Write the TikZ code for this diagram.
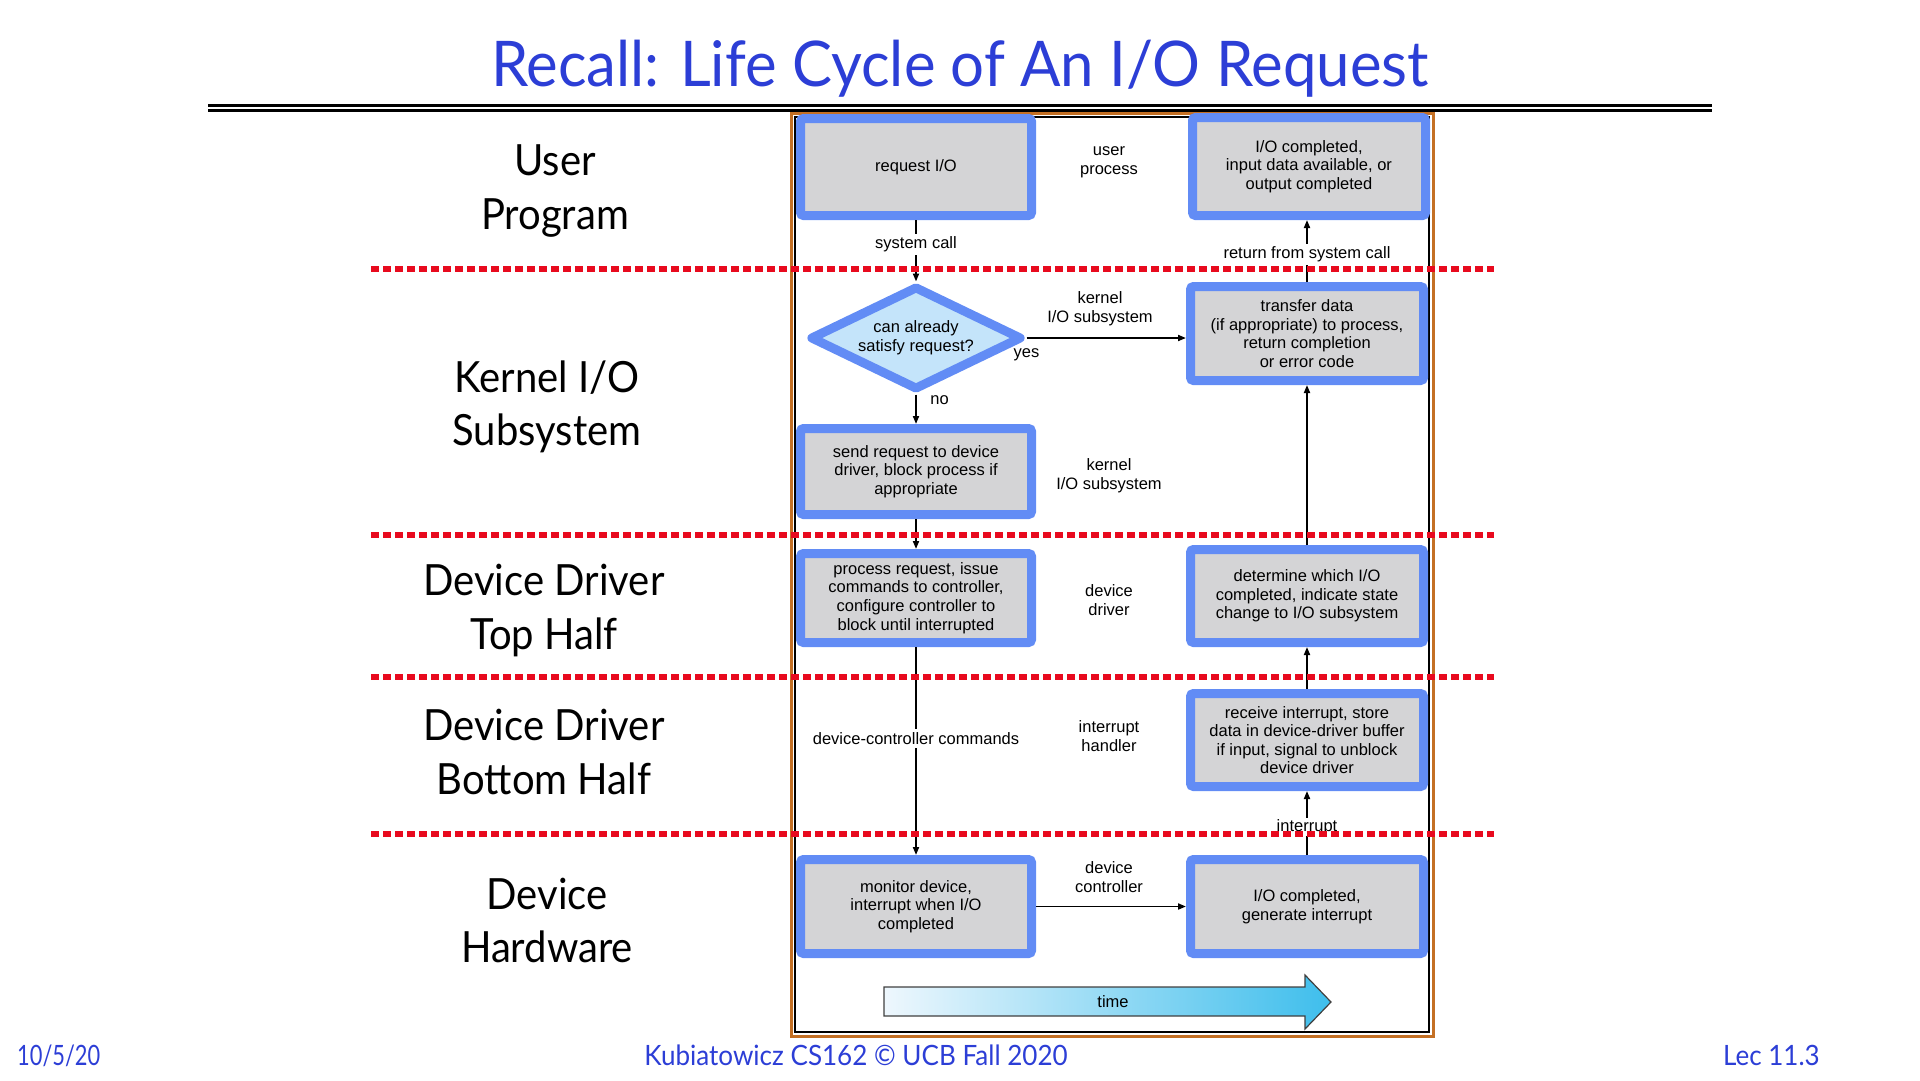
\documentclass[tikz,border=0pt]{standalone}
\usepackage{fontspec}
\setmainfont{Liberation Sans}
\newfontfamily\gillfont[FakeStretch=0.93]{Lato}
\newfontfamily\titlefont[FakeStretch=0.95]{Lato}
\newfontfamily\datefont[FakeStretch=0.78]{Lato}
\usetikzlibrary{shapes.geometric,arrows.meta}

\definecolor{boxblue}{RGB}{98,140,245}
\definecolor{boxgray}{RGB}{212,212,214}
\definecolor{diafill}{RGB}{196,228,250}
\definecolor{titleblue}{RGB}{44,62,214}
\definecolor{frameorange}{RGB}{196,112,36}
\definecolor{dotred}{RGB}{232,10,30}
\definecolor{timelight}{RGB}{238,247,253}
\definecolor{timedark}{RGB}{62,190,236}

\newcommand\diagfont{\fontsize{16.5}{18.6}\selectfont}
\newcommand\layerfont{\gillfont\fontsize{43}{51}\selectfont}

\tikzset{
  stepbox/.style={draw=boxblue, line width=9pt, fill=boxgray, rounded corners=3pt,
    align=center, font=\diagfont, inner sep=0pt, outer sep=4.5pt},
  decision/.style={diamond, aspect=2, draw=boxblue, line width=9pt, fill=diafill, line join=round,
    align=center, font=\diagfont, inner sep=0pt, outer sep=4.5pt},
  conn/.style={line width=1.8pt, -{Triangle[length=8pt,width=6pt]}},
  lbl/.style={font=\diagfont, inner sep=1.5pt},
  onlbl/.style={lbl, fill=white, inner sep=3pt},
  midlbl/.style={font=\diagfont, align=center, inner sep=0pt},
  layer/.style={font=\layerfont, anchor=base, inner sep=0pt},
  layerline/.style={dotred, line width=5.5pt, dash pattern=on 7.5pt off 4.5pt},
  footer/.style={text=titleblue, font=\gillfont\fontsize{28}{30}\selectfont, anchor=base, inner sep=0pt}
}

\begin{document}
\begin{tikzpicture}[x=1pt,y=-1pt]
\useasboundingbox (0,0) rectangle (1920,1080);

% title and double rule
\node[text=titleblue, font=\titlefont\fontsize{63}{70}\selectfont, anchor=base, inner sep=0pt]
  (title) at (960,86) {Recall: Life Cycle of An I/O Request};
\draw[line width=2.4pt] (208,105.5) -- (1712,105.5);
\draw[line width=2.4pt] (208,110.5) -- (1712,110.5);

% layer names
\node[layer] (user1) at (555,175) {User};
\node[layer] (user2) at (555,229) {Program};
\node[layer] (kern1) at (547,392) {Kernel I/O};
\node[layer] (kern2) at (547,445) {Subsystem};
\node[layer] (top1) at (544,595) {Device Driver};
\node[layer] (top2) at (544,649) {Top Half};
\node[layer] (bot1) at (544,740) {Device Driver};
\node[layer] (bot2) at (544,794) {Bottom Half};
\node[layer] (hw1) at (547,909) {Device};
\node[layer] (hw2) at (547,962) {Hardware};

% figure frame
\draw[frameorange, line width=3pt] (791,113) rectangle (1433,1036);
\draw[black, line width=1.5pt] (795,117) rectangle (1429,1032);

% steps
\node[stepbox, minimum width=231, minimum height=97] (req) at (916,167) {request I/O};
\node[stepbox, minimum width=233, minimum height=98] (done) at (1309,166.5)
  {I/O completed,\\input data available, or\\output completed};
\node[decision, minimum width=212, minimum height=104] (dia) at (916,338)
  {can already\\satisfy request?};
\node[stepbox, minimum width=233, minimum height=94] (xfer) at (1307,333.5)
  {transfer data\\(if appropriate) to process,\\return completion\\or error code};
\node[stepbox, minimum width=231, minimum height=86] (send) at (916,471.5)
  {send request to device\\driver, block process if\\appropriate};
\node[stepbox, minimum width=231, minimum height=89] (proc) at (916,598)
  {process request, issue\\commands to controller,\\configure controller to\\block until interrupted};
\node[stepbox, minimum width=233, minimum height=93] (which) at (1307,596)
  {determine which I/O\\completed, indicate state\\change to I/O subsystem};
\node[stepbox, minimum width=233, minimum height=93] (recv) at (1307,740)
  {receive interrupt, store\\data in device-driver buffer\\if input, signal to unblock\\device driver};
\node[stepbox, minimum width=231, minimum height=94] (mon) at (916,906.5)
  {monitor device,\\interrupt when I/O\\completed};
\node[stepbox, minimum width=233, minimum height=94] (gen) at (1307,906.5)
  {I/O completed,\\generate interrupt};

% layer captions in the middle column
\node[midlbl] (m1) at (1109,162) {user\\process};
\node[midlbl] (m2) at (1100,309) {kernel\\I/O subsystem};
\node[midlbl] (m3) at (1109,476) {kernel\\I/O subsystem};
\node[midlbl] (m4) at (1109,600) {device\\driver};
\node[midlbl] (m5) at (1109,736) {interrupt\\handler};
\node[midlbl] (m6) at (1109,877) {device\\controller};

% flow
\draw[conn] (req.south) -- node[onlbl, pos=0.4] {system call} (dia.north);
\draw[conn] (dia.east) -- node[lbl, at start, anchor=north, yshift=-8pt] {yes} (dia.east -| xfer.west);
\draw[conn] (dia.south) -- node[lbl, pos=0.2, right=12pt] {no} (send.north);
\draw[conn] (send.south) -- (proc.north);
\draw[conn] (proc.south) -- node[onlbl, pos=0.44] {device-controller commands} (mon.north);
\draw[conn] (mon.east) -- (mon.east -| gen.west);
\draw[conn] (gen.north) -- node[onlbl, pos=0.44, inner sep=1pt] {interrupt} (recv.south);
\draw[conn] (recv.north) -- (which.south);
\draw[conn] (which.north) -- (xfer.south);
\draw[conn] (xfer.north) -- node[onlbl, pos=0.44] {return from system call} (xfer.north |- done.south);

% time arrow
\shade[left color=timelight, right color=timedark, draw=black!75, line width=1.2pt]
  (884,987) -- (1305,987) -- (1305,975) -- (1331,1002) -- (1305,1029) -- (1305,1016)
  -- (884,1016) -- cycle;
\node[midlbl] (time) at (1113,1002) {time};

% layer boundaries
\draw[layerline] (371,269) -- (1494,269);
\draw[layerline] (371,535) -- (1494,535);
\draw[layerline] (371,677) -- (1494,677);
\draw[layerline] (371,834) -- (1494,834);

% footer
\node[footer, font=\datefont\fontsize{28}{30}\selectfont, anchor=base west] (date) at (17,1065) {10/5/20};
\node[footer] (course) at (856,1065) {Kubiatowicz CS162 © UCB Fall 2020};
\node[footer, anchor=base east] (lec) at (1820,1065) {Lec 11.3};
\end{tikzpicture}
\end{document}
